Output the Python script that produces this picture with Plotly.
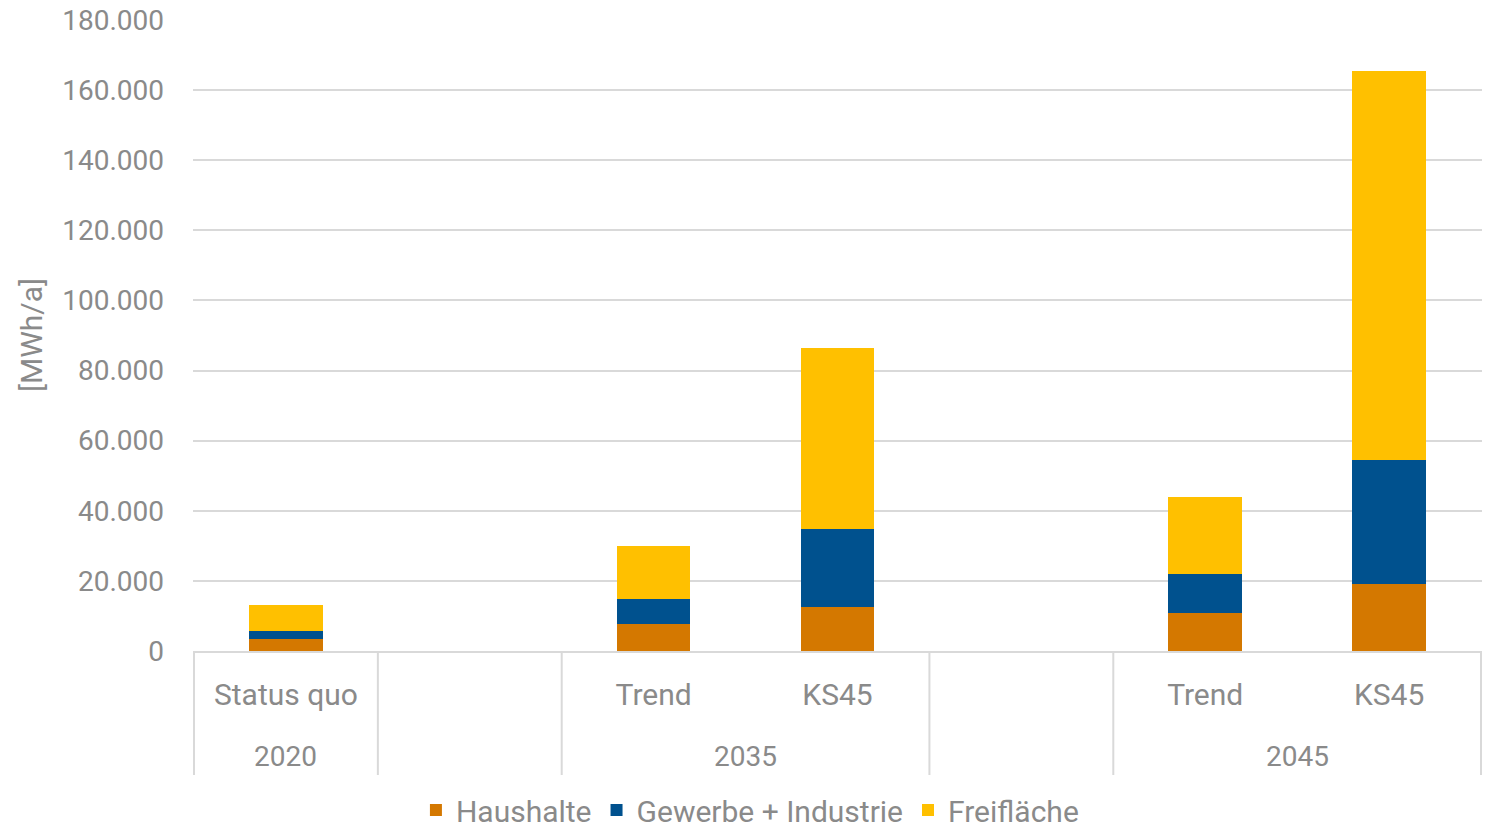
import plotly.graph_objects as go

years = ["2020", "", "2035", "2035", "", "2045", "2045"]
scenarios = ["Status quo", "", "Trend", "KS45", "", "Trend", "KS45"]

haushalte = [3300, None, 7600, 12600, None, 10700, 19000]
gewerbe = [2400, None, 7200, 22200, None, 11400, 35500]
freiflaeche = [7400, None, 15100, 51500, None, 21800, 110800]

y_ticks = [0, 20000, 40000, 60000, 80000, 100000, 120000, 140000, 160000, 180000]

series = [
    ("Haushalte", haushalte, "#D47800"),
    ("Gewerbe + Industrie", gewerbe, "#00518E"),
    ("Freifläche", freiflaeche, "#FFC000"),
]

FONT = "Roboto"
GREY = "#8a8a8a"
LINE = "#d9d9d9"
FS = 28

# unique category keys (slot index keeps the empty slots distinct)
keys = [f"{i}|{y}|{s}" for i, (y, s) in enumerate(zip(years, scenarios))]

fig = go.Figure()
for name, vals, col in series:
    fig.add_trace(go.Bar(
        x=keys, y=vals, name=name,
        marker=dict(color=col, line=dict(width=0)),
        width=0.4,
    ))

# year groups: consecutive slots sharing the same year label
groups = []
start = 0
for i in range(1, len(years) + 1):
    if i == len(years) or years[i] != years[start] or years[i] == "":
        groups.append((start, i - 1, years[start]))
        start = i

LABEL_DEPTH = 124 / 632   # divider depth below axis, in plot fractions
YEAR_POS = 105 / 632

shapes = []
bounds = sorted({g[0] - 0.5 for g in groups} | {g[1] + 0.5 for g in groups})
for b in bounds:
    shapes.append(dict(type="line", xref="x", yref="paper", x0=b, x1=b,
                       y0=0, y1=-LABEL_DEPTH, line=dict(color=LINE, width=2)))

annotations = []
for g0, g1, lab in groups:
    if lab:
        annotations.append(dict(text=lab, xref="x", yref="paper",
                                x=(g0 + g1) / 2, y=-YEAR_POS, yanchor="middle",
                                showarrow=False,
                                font=dict(size=FS, color=GREY, family=FONT)))

fig.update_layout(
    barmode="stack",
    width=1485, height=836,
    margin=dict(l=193, r=3, t=19, b=185, autoexpand=False),
    paper_bgcolor="white", plot_bgcolor="white",
    separators=",.",
    font=dict(family=FONT, color=GREY, size=FS),
    showlegend=True,
    legend=dict(
        orientation="h", x=0.505, xanchor="center", xref="container",
        y=0.0, yanchor="bottom", yref="container",
        font=dict(size=30, color=GREY, family=FONT),
        traceorder="normal",
    ),
    shapes=shapes,
    annotations=annotations,
)
fig.update_xaxes(
    type="category",
    categoryorder="array", categoryarray=keys,
    tickvals=keys, ticktext=scenarios,
    showline=True, linecolor=LINE, linewidth=2,
    ticks="",
    ticklabelstandoff=16,
    tickfont=dict(size=30, color=GREY, family=FONT),
    automargin=False,
    fixedrange=True,
)
fig.update_yaxes(
    range=[0, 180250],
    tickvals=y_ticks,
    tickformat=",d",
    showgrid=True, gridcolor=LINE, gridwidth=2,
    zeroline=False,
    ticklabelstandoff=28,
    tickfont=dict(size=FS, color=GREY, family=FONT),
    title=dict(text="[MWh/a]", font=dict(size=30, color=GREY, family=FONT), standoff=10),
    automargin=False,
    fixedrange=True,
)

fig.write_html(
    "out.html",
    config={"displayModeBar": False},
    post_script="document.body.style.margin='0';document.body.style.overflow='hidden';",
)
